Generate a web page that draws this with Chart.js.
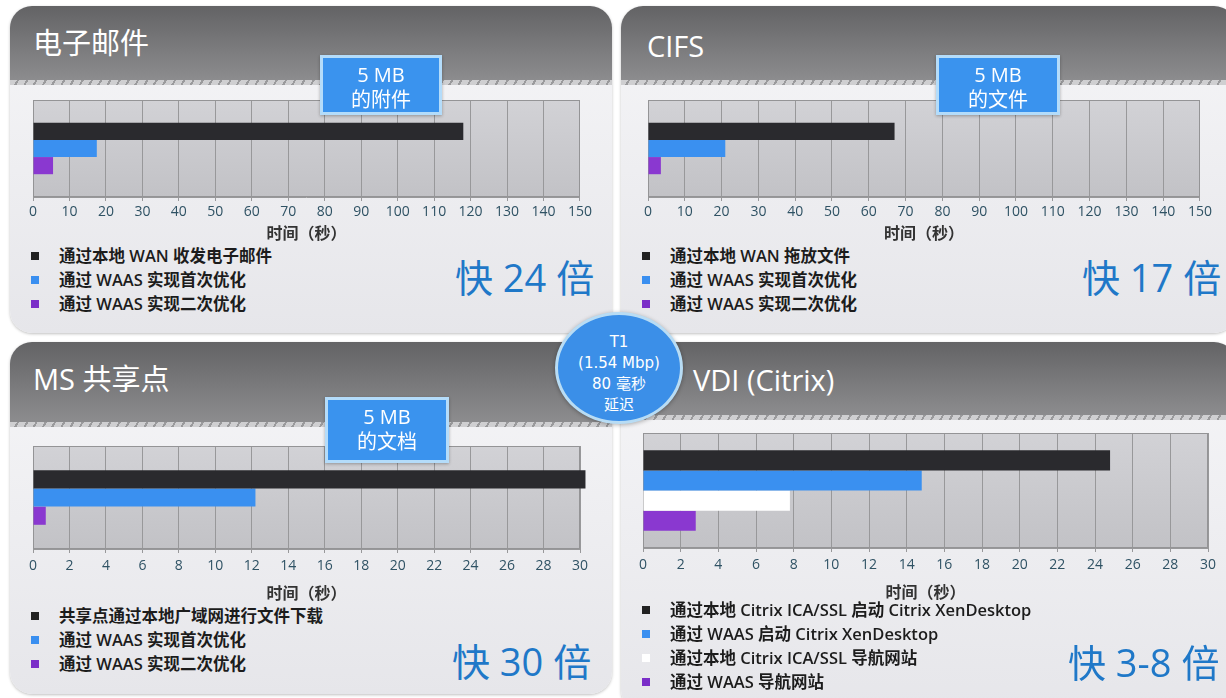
<!DOCTYPE html>
<html>
<head>
<meta charset="utf-8">
<script src="https://cdn.jsdelivr.net/npm/chart.js@4.4.1/dist/chart.umd.min.js"></script>
<style>
  body { margin: 0; width: 1226px; height: 698px; background: #ffffff; overflow: hidden;
         font-family: "Open Sans", "Noto Sans CJK SC", sans-serif; position: relative; }
  .panel { position: absolute; border-radius: 22px; overflow: hidden;
           background: linear-gradient(#f6f6f8, #e6e6ea); box-shadow: 0 1px 3px rgba(0,0,0,0.25); }
  .head { position: absolute; left: 0; right: 0; top: 0;
          background: linear-gradient(#636365, #7c7c7e 60%, #8c8c8e); }
  .dash { position: absolute; left: 0; right: 0; height: 5px;
          background: repeating-linear-gradient(120deg, #cfcfd1 0 6px, #9a9a9c 6px 8px); }
  .title { position: absolute; color: #fff; font-size: 29px; font-family: "Open Sans", "Noto Sans CJK SC", sans-serif;
           line-height: 1; white-space: nowrap; }
  .box { position: absolute; background: #3a93ee; border: 3px solid #b4dcfa; box-sizing: border-box;
         color: #fff; font-size: 20px; line-height: 25px; text-align: center; padding-top: 4px;
         font-family: "Open Sans", "Noto Sans CJK SC", sans-serif; box-shadow: 0 1px 3px rgba(0,0,0,0.3); }
  .cv { position: absolute; }
  .legend { position: absolute; font-family: "Open Sans", "Noto Sans CJK SC", sans-serif; font-weight: 600;
            font-size: 16.5px; color: #1c1c1c; }
  .legend div { position: absolute; white-space: nowrap; line-height: 20px; height: 20px; }
  .legend i { position: absolute; left: 0; top: 6px; width: 8px; height: 8px; }
  .legend span { position: absolute; left: 28px; top: 0; }
  .big { position: absolute; color: #1f78c8; font-size: 38px; line-height: 1; white-space: nowrap;
         font-family: "Open Sans", "Noto Sans CJK SC", sans-serif; }
  .circle { position: absolute; left: 555px; top: 312px; width: 128px; height: 112px; border-radius: 50%;
            background: #3b8fe8; border: 3px solid #b8dcf4; box-sizing: border-box; color: #fff;
            text-align: center; font-size: 15px; line-height: 21px; padding-top: 17px;
            font-family: "DejaVu Sans", "Noto Sans CJK SC", sans-serif; box-shadow: 0 1px 4px rgba(0,0,0,0.3); }
</style>
</head>
<body>

<div class="panel" style="left:10px;top:6px;width:602px;height:327px">
  <div class="head" style="height:74px"></div><div class="dash" style="top:74px"></div>
  <div class="title" style="left:23px;top:22px">电子邮件</div>
</div>
<div class="panel" style="left:621px;top:6px;width:615px;height:327px">
  <div class="head" style="height:74px"></div><div class="dash" style="top:74px"></div>
  <div class="title" style="left:26px;top:25px">CIFS</div>
</div>
<div class="panel" style="left:10px;top:342px;width:602px;height:352px">
  <div class="head" style="height:80px"></div><div class="dash" style="top:80px"></div>
  <div class="title" style="left:23px;top:22px">MS 共享点</div>
</div>
<div class="panel" style="left:621px;top:342px;width:615px;height:370px">
  <div class="head" style="height:73px"></div><div class="dash" style="top:73px"></div>
  <div class="title" style="left:72px;top:23px">VDI (Citrix)</div>
</div>

<div class="cv" style="left:20px;top:100px;width:575px;height:143px"><canvas id="c1"></canvas></div>
<div class="cv" style="left:635px;top:100px;width:580px;height:143px"><canvas id="c2"></canvas></div>
<div class="cv" style="left:20px;top:446px;width:575px;height:157px"><canvas id="c3"></canvas></div>
<div class="cv" style="left:630px;top:433px;width:593px;height:169px"><canvas id="c4"></canvas></div>

<div class="box" style="left:320px;top:55px;width:122px;height:60px">5 MB<br>的附件</div>
<div class="box" style="left:936px;top:55px;width:124px;height:60px">5 MB<br>的文件</div>
<div class="box" style="left:325px;top:397px;width:124px;height:66px">5 MB<br>的文档</div>

<div class="legend" id="lg1" style="left:31px;top:246px"></div>
<div class="legend" id="lg2" style="left:642px;top:246px"></div>
<div class="legend" id="lg3" style="left:31px;top:606px"></div>
<div class="legend" id="lg4" style="left:642px;top:600px"></div>

<div class="big" style="left:455px;top:258px">快 24 倍</div>
<div class="big" style="left:1082px;top:258px">快 17 倍</div>
<div class="big" style="left:452px;top:642px">快 30 倍</div>
<div class="big" style="left:1068px;top:643px">快 3-8 倍</div>

<div class="circle">T1<br>(1.54 Mbp)<br>80 毫秒<br>延迟</div>

<script>
// series labels
const emailLabels = ['通过本地 WAN 收发电子邮件', '通过 WAAS 实现首次优化', '通过 WAAS 实现二次优化'];
const cifsLabels = ['通过本地 WAN 拖放文件', '通过 WAAS 实现首次优化', '通过 WAAS 实现二次优化'];
const spLabels = ['共享点通过本地广域网进行文件下载', '通过 WAAS 实现首次优化', '通过 WAAS 实现二次优化'];
const vdiLabels = ['通过本地 Citrix ICA/SSL 启动 Citrix XenDesktop', '通过 WAAS 启动 Citrix XenDesktop',
                   '通过本地 Citrix ICA/SSL 导航网站', '通过 WAAS 导航网站'];

// time in seconds
const emailVals = [118, 17.5, 5.5];
const cifsVals = [67, 21, 3.5];
const spVals = [30.3, 12.2, 0.7];
const vdiVals = [24.8, 14.8, 7.8, 2.8];

const axisMaxLong = 150, axisStepLong = 10;
const axisMaxShort = 30, axisStepShort = 2;

const COLORS3 = ['#2a2a2e', '#3a90f0', '#8a38d0'];
const COLORS4 = ['#2a2a2e', '#3a90f0', '#ffffff', '#8a38d0'];
const LEGEND3 = ['#222222', '#3a8ff0', '#7a2ec8'];
const LEGEND4 = ['#222222', '#3a8ff0', '#ffffff', '#7a2ec8'];

const plotBg = {
  id: 'plotBg',
  beforeDraw(chart) {
    const { ctx, chartArea: a } = chart;
    const g = ctx.createLinearGradient(0, a.top, 0, a.bottom);
    g.addColorStop(0, '#d2d2d6');
    g.addColorStop(1, '#c2c2c6');
    ctx.save();
    ctx.fillStyle = g;
    ctx.fillRect(a.left, a.top, a.right - a.left, a.bottom - a.top);
    ctx.restore();
  },
  beforeDatasetsDraw(chart) {
    const { ctx, chartArea: a } = chart;
    ctx.save();
    ctx.strokeStyle = '#949496';
    ctx.lineWidth = 1;
    ctx.strokeRect(a.left + 0.5, a.top + 0.5, a.right - a.left - 1, a.bottom - a.top - 1);
    ctx.restore();
  }
};

function makeChart(id, labels, vals, colors, max, step, catPct, tickPad, titlePad) {
  new Chart(document.getElementById(id), {
    type: 'bar',
    data: {
      labels: [''],
      datasets: vals.map((v, i) => ({
        label: labels[i], data: [v], backgroundColor: colors[i],
        barPercentage: 1, categoryPercentage: catPct, clip: false,
      })),
    },
    options: {
      indexAxis: 'y',
      responsive: true, maintainAspectRatio: false, animation: false,
      layout: { padding: { left: 13, right: 15, top: 0, bottom: 0 } },
      plugins: { legend: { display: false }, tooltip: { enabled: false } },
      scales: {
        y: { display: false },
        x: {
          min: 0, max: max,
          ticks: { stepSize: step, color: '#2f5264', padding: tickPad,
                   font: { family: 'Open Sans', size: 14 } },
          grid: { color: '#98989a', tickLength: 4, tickColor: '#98989a' },
          border: { color: '#98989a' },
          title: { display: true, text: '时间（秒）', color: '#333',
                   padding: { top: titlePad, bottom: 0 },
                   font: { family: 'Noto Sans CJK SC', size: 16, weight: 'bold' } },
        },
      },
    },
    plugins: [plotBg],
  });
}

function makeLegend(id, labels, colors, gap) {
  document.getElementById(id).innerHTML = labels.map((t, i) =>
    `<div style="top:${i * gap}px"><i style="background:${colors[i]}"></i><span>${t}</span></div>`).join('');
}

makeChart('c1', emailLabels, emailVals, COLORS3, axisMaxLong, axisStepLong, 0.53, 3, 0);
makeChart('c2', cifsLabels, cifsVals, COLORS3, axisMaxLong, axisStepLong, 0.53, 3, 0);
makeChart('c3', spLabels, spVals, COLORS3, axisMaxShort, axisStepShort, 0.53, 5, 4);
makeChart('c4', vdiLabels, vdiVals, COLORS4, axisMaxShort, axisStepShort, 0.7, 5, 4);

makeLegend('lg1', emailLabels, LEGEND3, 24);
makeLegend('lg2', cifsLabels, LEGEND3, 24);
makeLegend('lg3', spLabels, LEGEND3, 24);
makeLegend('lg4', vdiLabels, LEGEND4, 24);
</script>
</body>
</html>
